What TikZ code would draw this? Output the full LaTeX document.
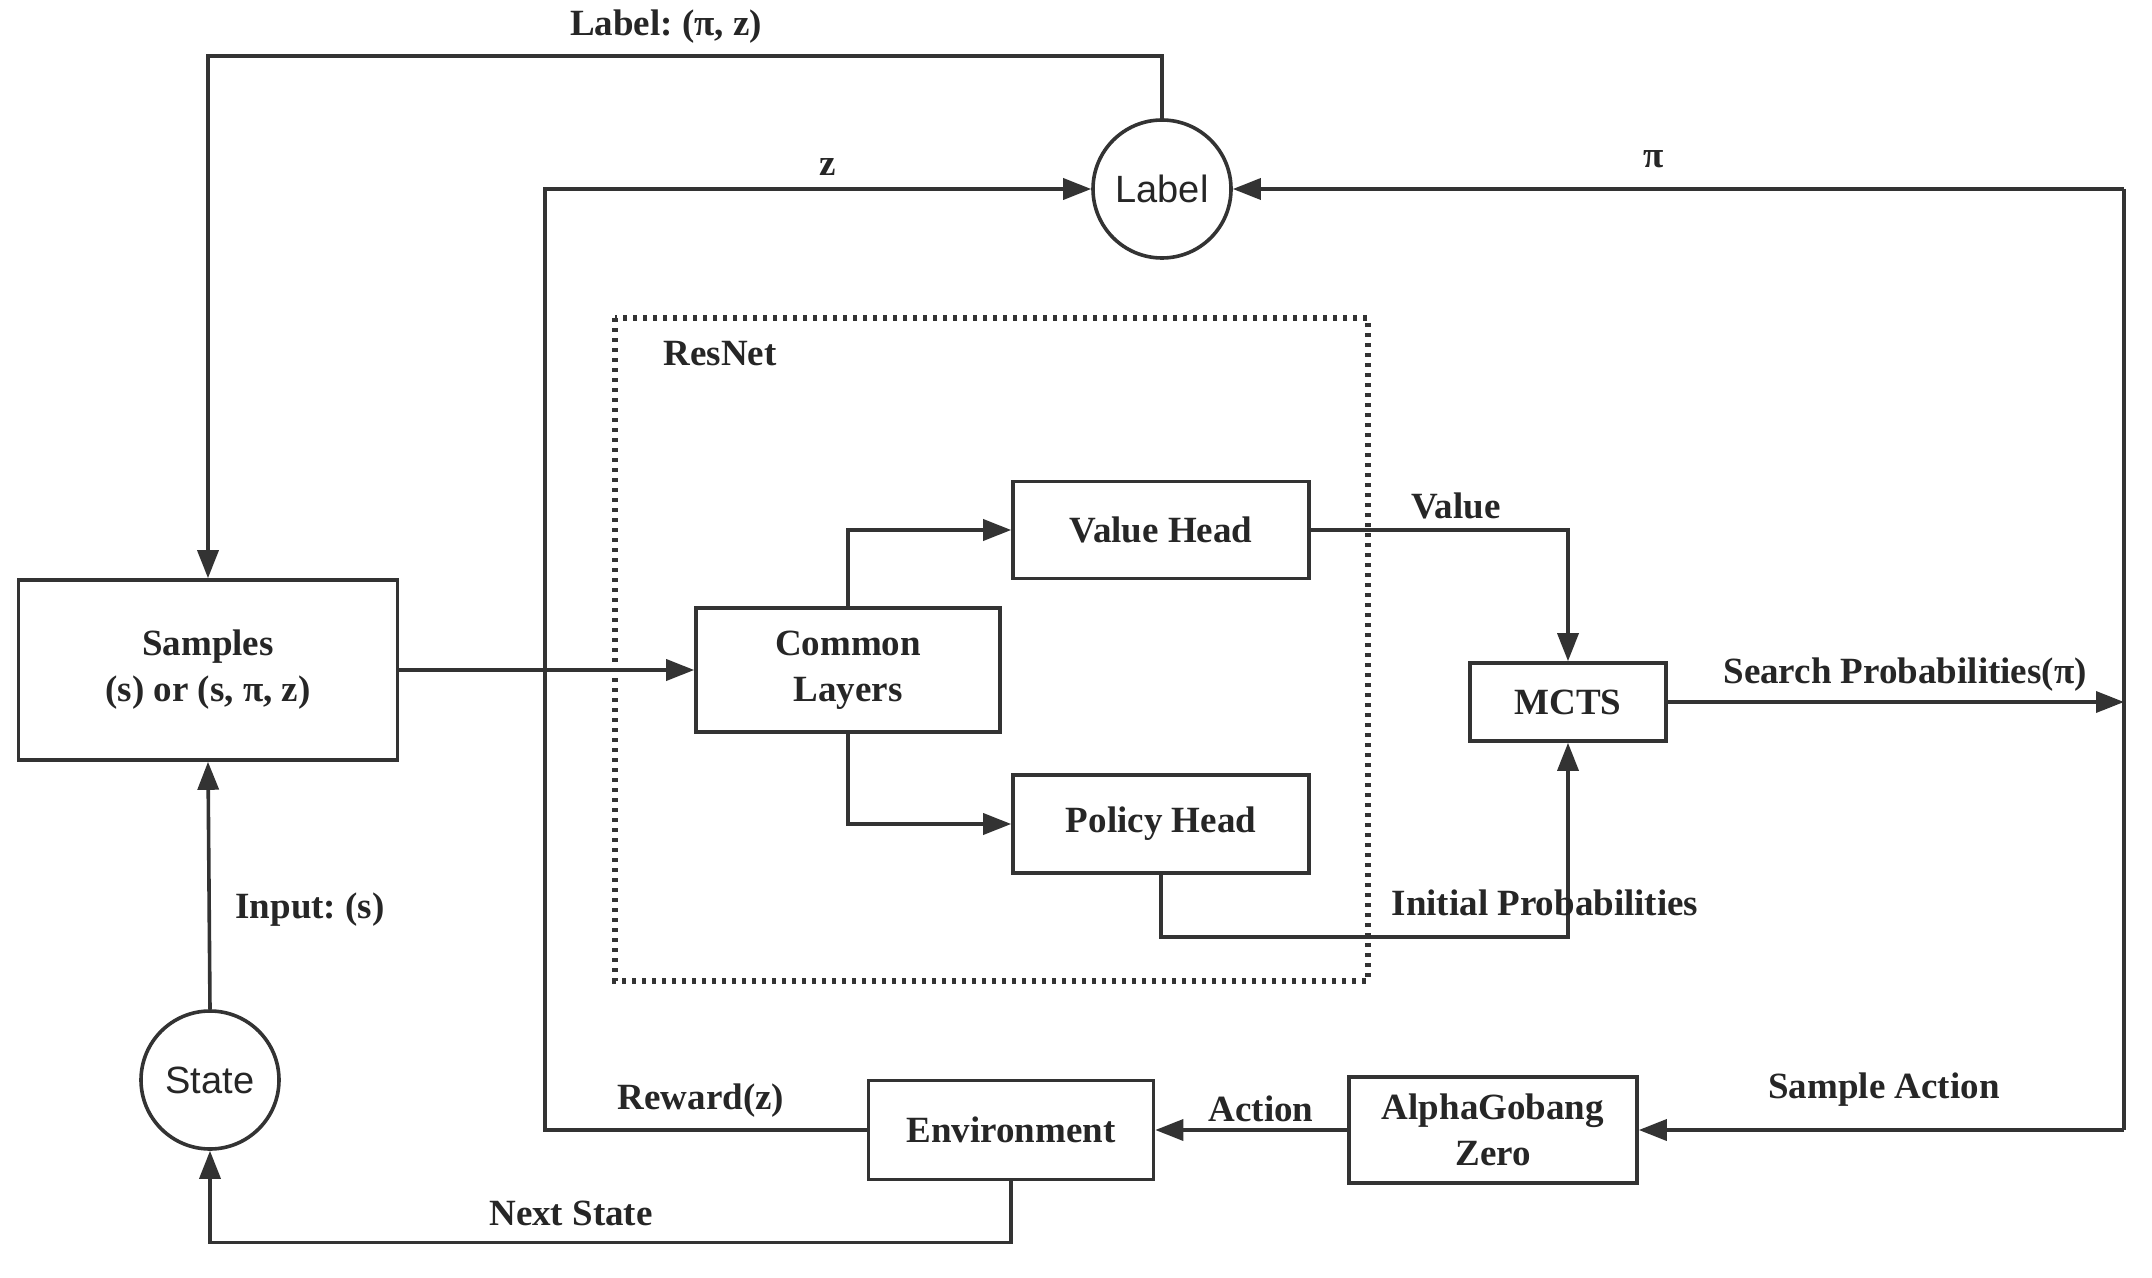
\documentclass[tikz,border=0pt]{standalone}
\usepackage{fontspec}
\setmainfont{Liberation Serif}
\newfontfamily\circfont{Liberation Sans}
\usetikzlibrary{arrows.meta}
\frenchspacing

\tikzset{
  txt/.style={font=\fontsize{18.5}{23}\selectfont\bfseries, inner sep=0.75pt, align=center, text=black!85},
  box/.style={draw=black!80, line width=1.8pt, txt},
  circ/.style={draw=black!80, circle, line width=1.8pt, minimum size=138*0.5pt, inner sep=0pt, text=black!85, font=\circfont\fontsize{19}{23}\selectfont},
  arr/.style={-{Triangle[length=14pt,width=10.5pt]}},
  lnk/.style={line width=1.8pt, draw=black!80},
}

\begin{document}
\begin{tikzpicture}[x=0.5pt,y=0.5pt,yscale=-1,xscale=1]
                \useasboundingbox (0,0) rectangle (2152,1278);

                %Dotted frame [ResNet]
                \draw [line width=2.8pt, dash pattern=on 2.2pt off 2.8pt, draw=black!80] (615,318) rectangle (1368,981) ;

                % Circles
                \node [circ] (label) at (1162,189) {Label};
                \node [circ] (state) at (210,1080) {State};

                % Boxes
                \node [box, minimum width=379*0.5pt, minimum height=180*0.5pt] (samples) at (208,670) {Samples\\(s) or (s, π, z)};
                \node [box, minimum width=304*0.5pt, minimum height=124*0.5pt] (common) at (848,670) {Common\\Layers};
                \node [box, minimum width=296*0.5pt, minimum height=97*0.5pt] (value) at (1161,530) {Value Head};
                \node [box, minimum width=296*0.5pt, minimum height=98*0.5pt] (policy) at (1161,824) {Policy Head};
                \node [box, minimum width=196*0.5pt, minimum height=78*0.5pt] (mcts) at (1568,702) {MCTS};
                \node [box, minimum width=285*0.5pt, minimum height=99*0.5pt] (env) at (1011,1130) {Environment};
                \node [box, minimum width=288*0.5pt, minimum height=106*0.5pt] (agz) at (1493,1130) {AlphaGobang\\Zero};

                % Corners of the outer loops
                \coordinate (zline) at (545,189);
                \coordinate (rtop) at (2124,189);
                \coordinate (rmid) at (2124,702);
                \coordinate (rbot) at (2124,1130);

                %Connectors
                \draw [lnk, arr] (label.north) -- ++(0,-62) -| (samples.north) ;
                \draw [lnk, arr] (env.west) -| (zline) -- (label.west) ;
                \draw [lnk, arr] (rtop) -- (label.east) ;
                \draw [lnk] (rtop) -- (rbot) ;
                \draw [lnk, arr] (rbot) -- (agz.east) ;
                \draw [lnk, arr] (agz.west) -- (env.east) ;
                \draw [lnk, arr] (env.south) -- ++(0,61) -| (state.south) ;
                \draw [lnk, arr] (state.north) -- (samples.south) ;
                \draw [lnk, arr] (samples.east) -- (common.west) ;
                \draw [lnk, arr] (common.north) |- (value.west) ;
                \draw [lnk, arr] (common.south) |- (policy.west) ;
                \draw [lnk, arr] (value.east) -| (mcts.north) ;
                \draw [lnk, arr] (policy.south) -- ++(0,62) -| (mcts.south) ;
                \draw [lnk, arr] (mcts.east) -- (rmid) ;

                % Text Node
                \node [txt] (tlabel) at (666,27) {Label: (π, z)};
                % Text Node
                \node [txt] (tz) at (828,167) {z};
                % Text Node
                \node [txt] (tpi) at (1654,159) {π};
                % Text Node
                \node [txt] (tresnet) at (720,354) {ResNet};
                % Text Node
                \node [txt] (tvalue) at (1456,506) {Value};
                % Text Node
                \node [txt] (tinit) at (1545,903) {Initial Probabilities};
                % Text Node
                \node [txt] (tsearch) at (1905,675) {Search Probabilities(π)};
                % Text Node
                \node [txt] (tsample) at (1884,1090) {Sample Action};
                % Text Node
                \node [txt] (taction) at (1261,1109) {Action};
                % Text Node
                \node [txt] (treward) at (701,1101) {Reward(z)};
                % Text Node
                \node [txt] (tnext) at (571,1213) {Next State};
                % Text Node
                \node [txt] (tinput) at (310,910) {Input: (s)};

            \end{tikzpicture}
\end{document}
